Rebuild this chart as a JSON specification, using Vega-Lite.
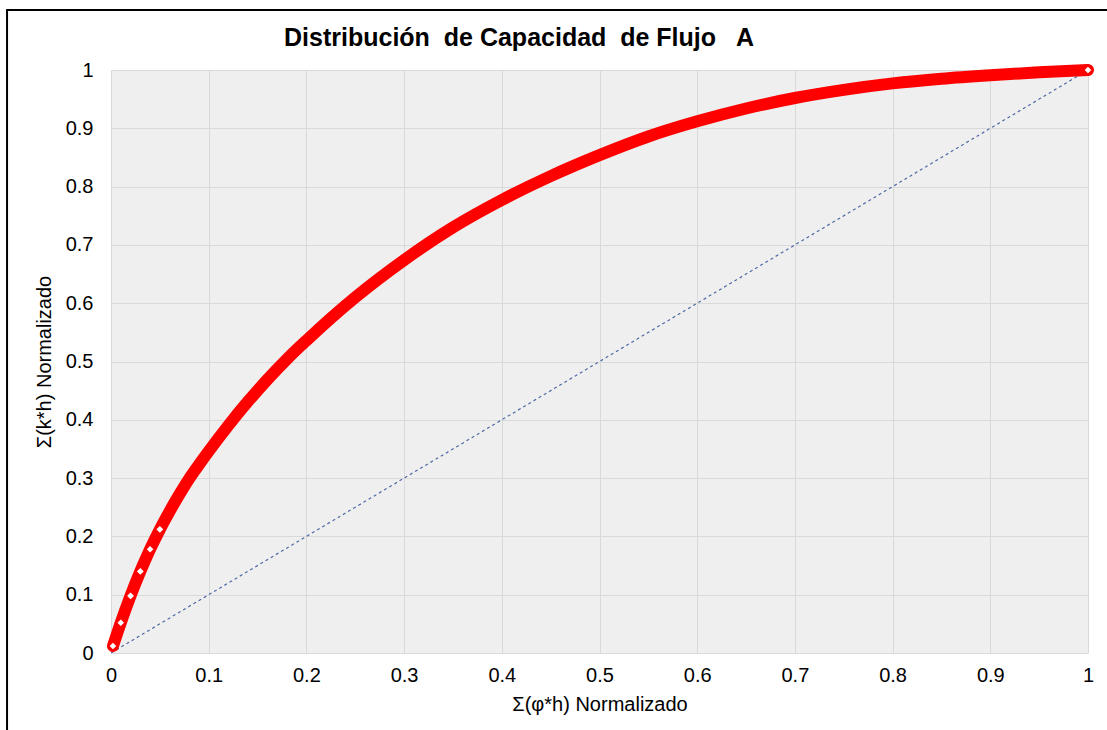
{
  "$schema": "https://vega.github.io/schema/vega-lite/v6.json",
  "autosize": {"type": "none"},
  "width": 977,
  "height": 583,
  "padding": {"left": 111, "top": 70, "right": 19, "bottom": 77},
  "background": "white",
  "config": {
    "font": "Liberation Sans",
    "view": {"fill": "#efefef", "stroke": null},
    "axis": {
      "labelFont": "Liberation Sans",
      "titleFont": "Liberation Sans",
      "labelFontSize": 20,
      "titleFontSize": 20,
      "labelColor": "#000000",
      "titleColor": "#000000",
      "titleFontWeight": "normal",
      "gridColor": "#d9d9d9",
      "gridWidth": 1,
      "domain": false,
      "ticks": false
    }
  },
  "title": {
    "text": "Distribución\u00a0 de Capacidad\u00a0 de Flujo\u00a0\u00a0 A",
    "font": "Liberation Sans",
    "fontSize": 25,
    "fontWeight": "bold",
    "color": "#000000",
    "anchor": "start",
    "dx": 278,
    "offset": -42
  },
  "datasets": {
    "curve": [
      {"x": 0.002, "y": 0.012},
      {"x": 0.01, "y": 0.052},
      {"x": 0.02, "y": 0.098},
      {"x": 0.03, "y": 0.14},
      {"x": 0.04, "y": 0.178},
      {"x": 0.05, "y": 0.212},
      {"x": 0.06, "y": 0.243},
      {"x": 0.07, "y": 0.272},
      {"x": 0.08, "y": 0.299},
      {"x": 0.09, "y": 0.323},
      {"x": 0.1, "y": 0.346},
      {"x": 0.12, "y": 0.39},
      {"x": 0.14, "y": 0.431},
      {"x": 0.16, "y": 0.469},
      {"x": 0.18, "y": 0.504},
      {"x": 0.2, "y": 0.536},
      {"x": 0.25, "y": 0.61},
      {"x": 0.3, "y": 0.674},
      {"x": 0.35, "y": 0.73},
      {"x": 0.4, "y": 0.777},
      {"x": 0.45, "y": 0.818},
      {"x": 0.5, "y": 0.854},
      {"x": 0.55, "y": 0.886},
      {"x": 0.6, "y": 0.912},
      {"x": 0.65, "y": 0.934},
      {"x": 0.7, "y": 0.952},
      {"x": 0.75, "y": 0.966},
      {"x": 0.8, "y": 0.977},
      {"x": 0.85, "y": 0.985},
      {"x": 0.9, "y": 0.991},
      {"x": 0.95, "y": 0.996},
      {"x": 1.0, "y": 1.0}
    ],
    "diag": [
      {"x": 0, "y": 0},
      {"x": 1, "y": 1}
    ],
    "frame": [{}]
  },
  "layer": [
    {
      "data": {"name": "diag"},
      "mark": {"type": "line", "color": "#4e6aa6", "strokeWidth": 1.2, "strokeDash": [3, 3]},
      "encoding": {
        "x": {
          "field": "x", "type": "quantitative",
          "scale": {"domain": [0, 1], "nice": false},
          "axis": {"values": [0, 0.1, 0.2, 0.3, 0.4, 0.5, 0.6, 0.7, 0.8, 0.9, 1], "format": ".1~f", "title": "Σ(φ*h) Normalizado", "labelPadding": 12, "titlePadding": 9, "labelFlush": false}
        },
        "y": {
          "field": "y", "type": "quantitative",
          "scale": {"domain": [0, 1], "nice": false},
          "axis": {"values": [0, 0.1, 0.2, 0.3, 0.4, 0.5, 0.6, 0.7, 0.8, 0.9, 1], "format": ".1~f", "title": "Σ(k*h) Normalizado", "labelPadding": 18, "titlePadding": 11, "labelFlush": false}
        }
      }
    },
    {
      "data": {"name": "curve"},
      "mark": {"type": "line", "color": "#ff0000", "strokeWidth": 12, "interpolate": "monotone", "strokeCap": "round"},
      "encoding": {
        "x": {"field": "x", "type": "quantitative"},
        "y": {"field": "y", "type": "quantitative"}
      }
    },
    {
      "data": {"name": "curve"},
      "transform": [{"filter": "datum.x <= 0.05 || datum.x >= 1"}],
      "mark": {"type": "point", "shape": "diamond", "filled": true, "fill": "#ffffff", "stroke": "#ff0000", "strokeWidth": 2, "size": 90, "opacity": 1},
      "encoding": {
        "x": {"field": "x", "type": "quantitative"},
        "y": {"field": "y", "type": "quantitative"}
      }
    },
    {
      "data": {"name": "frame"},
      "mark": {"type": "rect", "fill": null, "fillOpacity": 0, "stroke": "#000000", "strokeWidth": 2},
      "encoding": {
        "x": {"datum": -0.1064, "type": "quantitative"},
        "x2": {"datum": 1.06},
        "y": {"datum": 1.103, "type": "quantitative"},
        "y2": {"datum": -0.2}
      }
    }
  ]
}
